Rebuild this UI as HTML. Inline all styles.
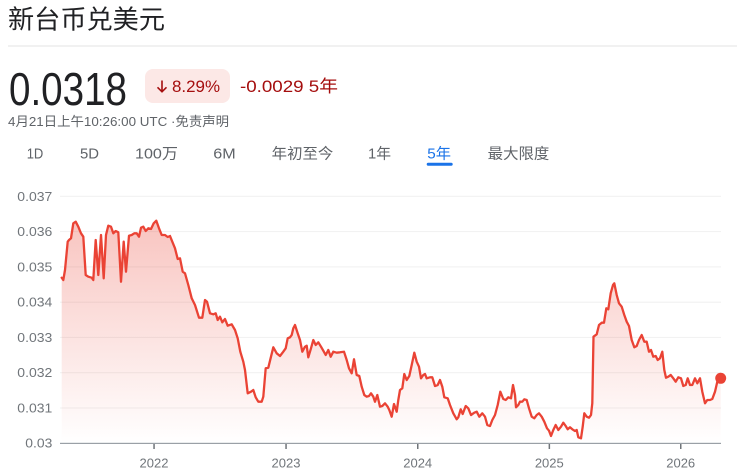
<!DOCTYPE html>
<html>
<head>
<meta charset="utf-8">
<style>
html,body{margin:0;padding:0;background:#fff;}
body{width:737px;height:475px;overflow:hidden;}
svg{display:block;}
text{font-family:"Liberation Sans","Noto Sans CJK SC",sans-serif;}
</style>
</head>
<body>
<svg width="737" height="475" viewBox="0 0 737 475" xmlns="http://www.w3.org/2000/svg">
<defs>
<linearGradient id="fg" gradientUnits="userSpaceOnUse" x1="0" y1="215" x2="0" y2="443">
<stop offset="0" stop-color="#ea4335" stop-opacity="0.32"/>
<stop offset="1" stop-color="#ea4335" stop-opacity="0"/>
</linearGradient>
</defs>

<!-- header -->
<text x="8" y="28.5" font-size="26" fill="#202124" textLength="157" lengthAdjust="spacingAndGlyphs">新台币兑美元</text>
<rect x="8" y="45.5" width="729" height="1" fill="#e3e3e3"/>

<text transform="translate(9,105) scale(1,1.12)" x="0" y="0" font-size="41" fill="#202124" textLength="118" lengthAdjust="spacingAndGlyphs">0.0318</text>

<rect x="145" y="69" width="85" height="34" rx="8" fill="#fce8e6"/>
<path d="M162 80.5 V91.5 M157.5 87.3 L162 91.8 L166.5 87.3" stroke="#a50e0e" stroke-width="1.6" fill="none"/>
<text x="172" y="92" font-size="17" fill="#a50e0e" textLength="48" lengthAdjust="spacingAndGlyphs">8.29%</text>
<text x="240" y="92" font-size="17" fill="#a50e0e" textLength="98" lengthAdjust="spacingAndGlyphs">-0.0029 5年</text>

<text x="8" y="126" font-size="13" fill="#5f6368" textLength="221" lengthAdjust="spacingAndGlyphs">4月21日上午10:26:00 UTC ·免责声明</text>

<!-- tabs -->
<g font-size="15" fill="#5f6368">
<text x="26.7" y="158.3" textLength="16.6" lengthAdjust="spacingAndGlyphs">1D</text>
<text x="80" y="158.3" textLength="19" lengthAdjust="spacingAndGlyphs">5D</text>
<text x="135" y="158.3" textLength="43" lengthAdjust="spacingAndGlyphs">100万</text>
<text x="213.3" y="158.3" textLength="22.4" lengthAdjust="spacingAndGlyphs">6M</text>
<text x="271.7" y="158.3" textLength="61.6" lengthAdjust="spacingAndGlyphs">年初至今</text>
<text x="368" y="158.3" textLength="23" lengthAdjust="spacingAndGlyphs">1年</text>
<text x="427.3" y="158.3" textLength="23.7" lengthAdjust="spacingAndGlyphs" fill="#1a73e8">5年</text>
<text x="487.7" y="158.3" textLength="61.6" lengthAdjust="spacingAndGlyphs">最大限度</text>
</g>
<rect x="426.7" y="162.7" width="26" height="3" rx="1.5" fill="#1a73e8"/>

<!-- gridlines -->
<g fill="#f0f0f0">
<rect x="60" y="195.8" width="661" height="1"/>
<rect x="60" y="231.1" width="661" height="1"/>
<rect x="60" y="266.4" width="661" height="1"/>
<rect x="60" y="301.7" width="661" height="1"/>
<rect x="60" y="336.9" width="661" height="1"/>
<rect x="60" y="372.2" width="661" height="1"/>
<rect x="60" y="407.5" width="661" height="1"/>
</g>

<!-- y labels -->
<g font-size="13" fill="#70757a" text-anchor="end">
<text x="52.3" y="200.8" textLength="35" lengthAdjust="spacingAndGlyphs">0.037</text>
<text x="52.3" y="236.1" textLength="35" lengthAdjust="spacingAndGlyphs">0.036</text>
<text x="52.3" y="271.4" textLength="35" lengthAdjust="spacingAndGlyphs">0.035</text>
<text x="52.3" y="306.7" textLength="35" lengthAdjust="spacingAndGlyphs">0.034</text>
<text x="52.3" y="341.9" textLength="35" lengthAdjust="spacingAndGlyphs">0.033</text>
<text x="52.3" y="377.2" textLength="35" lengthAdjust="spacingAndGlyphs">0.032</text>
<text x="52.3" y="412.5" textLength="35" lengthAdjust="spacingAndGlyphs">0.031</text>
<text x="52.3" y="447.7" textLength="27" lengthAdjust="spacingAndGlyphs">0.03</text>
</g>

<!-- area + line -->
<path fill="url(#fg)" stroke="none" d="M61.7,277.7 L63.3,280 L65,270 L67.7,241.7 L69,240 L71,238.3 L73.3,223.3 L75.7,221.7 L78.3,226.7 L81,233.3 L83.3,236.7 L85.7,275 L88.3,276.7 L91.7,277.7 L93.3,280 L95.7,240 L98.3,275 L101,235 L103.7,278.3 L106,235 L108.3,225.7 L111,226.7 L113.3,233.3 L115.7,231 L118.3,232.3 L121,281.7 L123.7,241.7 L126,271.7 L129,235.7 L131.7,235 L134.3,233.3 L136.7,233.3 L139,236.7 L141,227.7 L143.3,226.7 L145.7,231 L148.3,228.3 L151,229 L153.7,223.3 L156.3,220.7 L159,228.3 L161.7,235 L165,235 L167.7,237 L170,236 L172.3,241.7 L175,248.3 L177.7,259 L180,258.3 L182.7,271.7 L185,273.3 L188.3,285 L191.7,298.3 L195,305 L199,317.7 L202.3,317.7 L205,300 L207,301.7 L210,313.3 L213.3,314.3 L215.7,313.3 L217.7,320 L220,316.7 L222.3,322.3 L225,319 L227.7,325.7 L231.7,324.3 L235,330 L237.7,338.3 L240.3,351.7 L243.3,361.7 L245,370 L247.7,393.3 L251,391.7 L253.3,390 L255.7,397.3 L258.3,401.7 L261.7,401.7 L263.3,396.7 L265.7,368.3 L268.3,367.7 L271,356.7 L273.3,347.3 L276.7,353.3 L280,356 L283.3,351.7 L285.7,348.3 L287.7,338.3 L290,337.3 L291.7,335 L293.3,328.3 L295,325 L297.7,333.3 L300,340 L302.3,351.7 L305,346.7 L306.7,345.7 L308.3,357.3 L311,348.3 L313.3,340 L315.7,345 L318.3,342.3 L321,346.7 L323.3,350.7 L325.7,355 L328.3,350 L330.7,356.7 L333.3,351.7 L336.7,352.7 L340,352.3 L344,351.7 L346.7,360 L349,368.3 L351.7,373.3 L354,359.3 L356.7,375 L359.3,376 L361.7,386.7 L364.3,395 L366.7,396.7 L369,396 L371,393.3 L373.3,396.7 L375,401.7 L377.3,395 L380,406.7 L382.3,406 L385,403.3 L387.7,406.7 L389.3,410 L391.7,416.7 L394,404 L396.7,411.7 L398.3,400 L400,390 L402.3,388.3 L404.3,374 L406.7,380 L409.3,376 L411.7,365 L414.3,352.7 L416.7,361.7 L419,366.7 L421,378.3 L423.3,375 L425,374 L426.7,378.3 L430,377.3 L432.3,377.3 L435,386 L437.7,385 L440,380 L442.3,386.7 L444.3,397.3 L447.7,398.3 L450,405 L453.3,413.3 L456.7,419.3 L458.3,417.3 L460.7,409.3 L462.7,414 L465.7,406 L468.3,408.3 L471,415 L474.3,412.7 L476.7,411.7 L479.3,416.7 L482.3,413.3 L485,416.7 L487.3,425 L490,426 L492.3,420 L495,415 L497.7,405 L500.3,391.7 L503.3,399 L505.7,400 L508.3,397.3 L511,398.3 L513,385 L515,395 L516,407.3 L518.3,405 L520,401.7 L522.3,401.7 L524.3,399.3 L526.7,400 L529,408.3 L531.7,416.7 L534.3,418.3 L536.7,415 L539,413.3 L541.7,416.7 L544.3,421.7 L547,428.3 L549,430.7 L551,436 L553.3,430 L555.7,425 L558.3,430 L561,426.7 L563.3,422.7 L565.7,426 L567.7,429.3 L570,427.3 L572.3,429.3 L575,431 L576.7,430 L578.3,437.3 L581,438.3 L582.7,426.7 L584.3,413.3 L586.7,416.7 L589,417.7 L591,415 L592.3,403.3 L593.5,336.7 L596.7,334.3 L599,325 L601.7,322.7 L604,322.7 L606.3,308.3 L608.3,309.3 L610.7,293.3 L613,285 L614.3,283.3 L616.7,295 L619,303.3 L621.7,306.7 L624.3,315 L626.7,321.7 L629,326 L631.7,340 L634.3,347.3 L636.7,346 L639,340 L641.7,335 L644.3,341.7 L646.7,341.7 L649,351.7 L651,350 L653.3,356.7 L655.7,356 L657.7,360 L660,358.3 L662.3,351.7 L664.3,370 L666,377.7 L668.3,376.7 L670.7,375 L673.3,378.3 L675.7,381.7 L678.3,377.3 L681,378.3 L683.3,386 L685.7,385 L687.7,378.3 L690,385 L692.3,385 L695,378.3 L697.3,383.3 L700,378.3 L702.3,391.7 L705,403.3 L707.3,400 L710,400 L712.3,399 L715,391.7 L717.7,380 L720.7,378.3 L720.7,443 L61.7,443 Z"/>
<path fill="none" stroke="#ea4335" stroke-width="2.3" stroke-linejoin="round" stroke-linecap="round" d="M61.7,277.7 L63.3,280 L65,270 L67.7,241.7 L69,240 L71,238.3 L73.3,223.3 L75.7,221.7 L78.3,226.7 L81,233.3 L83.3,236.7 L85.7,275 L88.3,276.7 L91.7,277.7 L93.3,280 L95.7,240 L98.3,275 L101,235 L103.7,278.3 L106,235 L108.3,225.7 L111,226.7 L113.3,233.3 L115.7,231 L118.3,232.3 L121,281.7 L123.7,241.7 L126,271.7 L129,235.7 L131.7,235 L134.3,233.3 L136.7,233.3 L139,236.7 L141,227.7 L143.3,226.7 L145.7,231 L148.3,228.3 L151,229 L153.7,223.3 L156.3,220.7 L159,228.3 L161.7,235 L165,235 L167.7,237 L170,236 L172.3,241.7 L175,248.3 L177.7,259 L180,258.3 L182.7,271.7 L185,273.3 L188.3,285 L191.7,298.3 L195,305 L199,317.7 L202.3,317.7 L205,300 L207,301.7 L210,313.3 L213.3,314.3 L215.7,313.3 L217.7,320 L220,316.7 L222.3,322.3 L225,319 L227.7,325.7 L231.7,324.3 L235,330 L237.7,338.3 L240.3,351.7 L243.3,361.7 L245,370 L247.7,393.3 L251,391.7 L253.3,390 L255.7,397.3 L258.3,401.7 L261.7,401.7 L263.3,396.7 L265.7,368.3 L268.3,367.7 L271,356.7 L273.3,347.3 L276.7,353.3 L280,356 L283.3,351.7 L285.7,348.3 L287.7,338.3 L290,337.3 L291.7,335 L293.3,328.3 L295,325 L297.7,333.3 L300,340 L302.3,351.7 L305,346.7 L306.7,345.7 L308.3,357.3 L311,348.3 L313.3,340 L315.7,345 L318.3,342.3 L321,346.7 L323.3,350.7 L325.7,355 L328.3,350 L330.7,356.7 L333.3,351.7 L336.7,352.7 L340,352.3 L344,351.7 L346.7,360 L349,368.3 L351.7,373.3 L354,359.3 L356.7,375 L359.3,376 L361.7,386.7 L364.3,395 L366.7,396.7 L369,396 L371,393.3 L373.3,396.7 L375,401.7 L377.3,395 L380,406.7 L382.3,406 L385,403.3 L387.7,406.7 L389.3,410 L391.7,416.7 L394,404 L396.7,411.7 L398.3,400 L400,390 L402.3,388.3 L404.3,374 L406.7,380 L409.3,376 L411.7,365 L414.3,352.7 L416.7,361.7 L419,366.7 L421,378.3 L423.3,375 L425,374 L426.7,378.3 L430,377.3 L432.3,377.3 L435,386 L437.7,385 L440,380 L442.3,386.7 L444.3,397.3 L447.7,398.3 L450,405 L453.3,413.3 L456.7,419.3 L458.3,417.3 L460.7,409.3 L462.7,414 L465.7,406 L468.3,408.3 L471,415 L474.3,412.7 L476.7,411.7 L479.3,416.7 L482.3,413.3 L485,416.7 L487.3,425 L490,426 L492.3,420 L495,415 L497.7,405 L500.3,391.7 L503.3,399 L505.7,400 L508.3,397.3 L511,398.3 L513,385 L515,395 L516,407.3 L518.3,405 L520,401.7 L522.3,401.7 L524.3,399.3 L526.7,400 L529,408.3 L531.7,416.7 L534.3,418.3 L536.7,415 L539,413.3 L541.7,416.7 L544.3,421.7 L547,428.3 L549,430.7 L551,436 L553.3,430 L555.7,425 L558.3,430 L561,426.7 L563.3,422.7 L565.7,426 L567.7,429.3 L570,427.3 L572.3,429.3 L575,431 L576.7,430 L578.3,437.3 L581,438.3 L582.7,426.7 L584.3,413.3 L586.7,416.7 L589,417.7 L591,415 L592.3,403.3 L593.5,336.7 L596.7,334.3 L599,325 L601.7,322.7 L604,322.7 L606.3,308.3 L608.3,309.3 L610.7,293.3 L613,285 L614.3,283.3 L616.7,295 L619,303.3 L621.7,306.7 L624.3,315 L626.7,321.7 L629,326 L631.7,340 L634.3,347.3 L636.7,346 L639,340 L641.7,335 L644.3,341.7 L646.7,341.7 L649,351.7 L651,350 L653.3,356.7 L655.7,356 L657.7,360 L660,358.3 L662.3,351.7 L664.3,370 L666,377.7 L668.3,376.7 L670.7,375 L673.3,378.3 L675.7,381.7 L678.3,377.3 L681,378.3 L683.3,386 L685.7,385 L687.7,378.3 L690,385 L692.3,385 L695,378.3 L697.3,383.3 L700,378.3 L702.3,391.7 L705,403.3 L707.3,400 L710,400 L712.3,399 L715,391.7 L717.7,380 L720.7,378.3"/>
<circle cx="720.7" cy="378.3" r="5.5" fill="#ea4335"/>

<!-- x axis -->
<rect x="60" y="442.8" width="661" height="1.2" fill="#9aa0a6"/>
<g fill="#70757a">
<rect x="153.3" y="444" width="1.5" height="5"/>
<rect x="285.3" y="444" width="1.5" height="5"/>
<rect x="417" y="444" width="1.5" height="5"/>
<rect x="548.6" y="444" width="1.5" height="5"/>
<rect x="680" y="444" width="1.5" height="5"/>
</g>
<g font-size="13" fill="#70757a" text-anchor="middle">
<text x="154" y="467.3">2022</text>
<text x="286" y="467.3">2023</text>
<text x="417.7" y="467.3">2024</text>
<text x="549.3" y="467.3">2025</text>
<text x="680.7" y="467.3">2026</text>
</g>
</svg>
</body>
</html>
